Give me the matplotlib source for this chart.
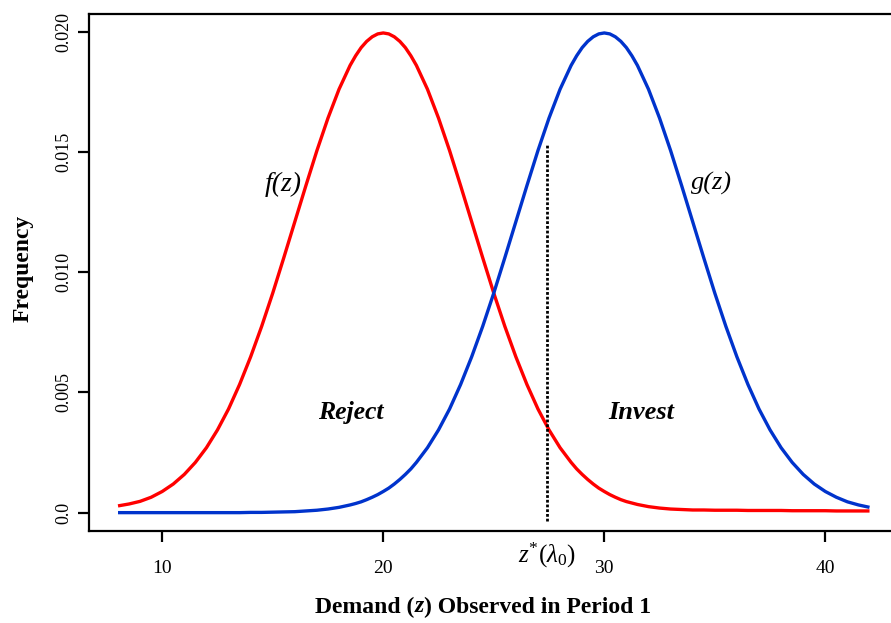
import numpy as np
import matplotlib
matplotlib.use("Agg")
import matplotlib.pyplot as plt

# Fuentes tipo Times
plt.rcParams['font.family'] = ['Liberation Serif', 'DejaVu Serif']
plt.rcParams['mathtext.fontset'] = 'custom'
plt.rcParams['mathtext.rm'] = 'Liberation Serif'
plt.rcParams['mathtext.it'] = 'Liberation Serif:italic'

# Demanda observada (rejilla de 0.5, de 0.25 cerca de los picos)
z = np.concatenate([np.arange(8, 18.51, 0.5), np.arange(18.75, 21.26, 0.25),
                    np.arange(21.5, 28.51, 0.5), np.arange(28.75, 31.26, 0.25),
                    np.arange(31.5, 42.01, 0.5)])

# f(z): curva roja
f_z = [0.00028, 0.00036, 0.00047, 0.00064, 0.00088, 0.00119, 0.00159, 0.00209,
       0.00270, 0.00344, 0.00431, 0.00533, 0.00648, 0.00775, 0.00913, 0.01060,
       0.01210, 0.01360, 0.01506, 0.01641, 0.01761, 0.01860,
       0.01900, 0.01934, 0.01960, 0.01979, 0.01991, 0.01995, 0.01991, 0.01979,
       0.01960, 0.01934, 0.01900,
       0.01860, 0.01761, 0.01641, 0.01506, 0.01360, 0.01210, 0.01060, 0.00913,
       0.00775, 0.00648, 0.00533, 0.00431, 0.00344, 0.00270, 0.00209,
       0.00182, 0.00159, 0.00138, 0.00119, 0.00102, 0.00088, 0.00075, 0.00064,
       0.00054, 0.00046, 0.00040,
       0.00034, 0.00025, 0.00019, 0.00015, 0.00013, 0.00011, 0.00011, 0.00010,
       0.00010, 0.00010, 0.00009, 0.00009, 0.00009, 0.00009, 0.00008, 0.00008,
       0.00008, 0.00008, 0.00007, 0.00007, 0.00007, 0.00007]

# g(z): curva azul
g_z = [0.0, 0.0, 0.0, 0.0, 0.0, 0.0, 0.0, 0.0, 0.0, 0.0, 0.0, 0.0,
       0.00001, 0.00001, 0.00002, 0.00003, 0.00004, 0.00007, 0.00010, 0.00015,
       0.00022, 0.00032,
       0.00038, 0.00045, 0.00054, 0.00064, 0.00075, 0.00088, 0.00102, 0.00119,
       0.00138, 0.00159, 0.00182,
       0.00209, 0.00270, 0.00344, 0.00431, 0.00533, 0.00648, 0.00775, 0.00913,
       0.01060, 0.01210, 0.01360, 0.01506, 0.01641, 0.01761, 0.01860,
       0.01900, 0.01934, 0.01960, 0.01979, 0.01991, 0.01995, 0.01991, 0.01979,
       0.01960, 0.01934, 0.01900,
       0.01860, 0.01761, 0.01641, 0.01506, 0.01360, 0.01210, 0.01060, 0.00913,
       0.00775, 0.00648, 0.00533, 0.00431, 0.00344, 0.00270, 0.00209, 0.00159,
       0.00119, 0.00088, 0.00064, 0.00045, 0.00032, 0.00022]

# Umbral z*(lambda_0)
z_star = 27.39
z_star_top = 0.0153

x_ticks = [10, 20, 30, 40]
y_ticks = [0.0, 0.005, 0.010, 0.015, 0.020]
y_labels = ['0.0', '0.005', '0.010', '0.015', '0.020']

fig = plt.figure(figsize=(8.91, 6.23), dpi=100)
ax = fig.add_axes([0.1002, 0.1482, 0.9129, 0.8294])

ax.plot(z, f_z, color='#FF0000', lw=2.4, solid_capstyle='butt', solid_joinstyle='round')
ax.plot(z, g_z, color='#0033CC', lw=2.4, solid_capstyle='butt', solid_joinstyle='round')
ax.vlines(z_star, -0.00035, z_star_top, colors='black', lw=2.0,
          linestyles=(0, (1, 0.7)))

ax.set_xlim(6.70, 43.5)
ax.set_ylim(-0.00075, 0.02074)

ax.set_xticks(x_ticks)
ax.set_xticklabels([str(t) for t in x_ticks], fontsize=14)
ax.set_yticks(y_ticks)
ax.set_yticklabels(y_labels, fontsize=13, rotation=90, va='center')
ax.tick_params(axis='x', length=8, width=1.6, pad=13)
ax.tick_params(axis='y', length=8, width=1.6, pad=4)
for s in ax.spines.values():
    s.set_linewidth(1.6)

# Textos dentro del gráfico
ax.text(15.46, 0.01363, 'f(z)', fontsize=20, style='italic', ha='center', va='center')
ax.text(34.87, 0.01371, 'g(z)', fontsize=19, style='italic', ha='center', va='center')
ax.text(18.54, 0.00415, 'Reject', fontsize=18.5, style='italic', weight='bold',
        ha='center', va='center')
ax.text(31.66, 0.00415, 'Invest', fontsize=19, style='italic', weight='bold',
        ha='center', va='center')
ax.text(z_star, -0.0018, r'$z^{*}(\lambda_0)$', fontsize=18, ha='center',
        va='center', clip_on=False)

fig.text(23 / 891, 1 - 268 / 623, 'Frequency', fontsize=17, weight='bold',
         rotation=90, ha='center', va='center')

# Etiqueta del eje x con la z en cursiva (tres piezas)
renderer = fig.canvas.get_renderer()
partes = [('Demand (', 'normal'), ('z', 'italic'), (') Observed in Period 1', 'normal')]
yl = 1 - 607 / 623
textos = []
for txt, st in partes:
    t = fig.text(0, yl, txt, fontsize=17, weight='bold', style=st,
                 ha='left', va='center')
    textos.append(t)
anchos = [t.get_window_extent(renderer).width for t in textos]
x0 = 483 - sum(anchos) / 2
for t, w in zip(textos, anchos):
    t.set_x(x0 / 891)
    x0 += w

fig.savefig('out.png', dpi=100)
